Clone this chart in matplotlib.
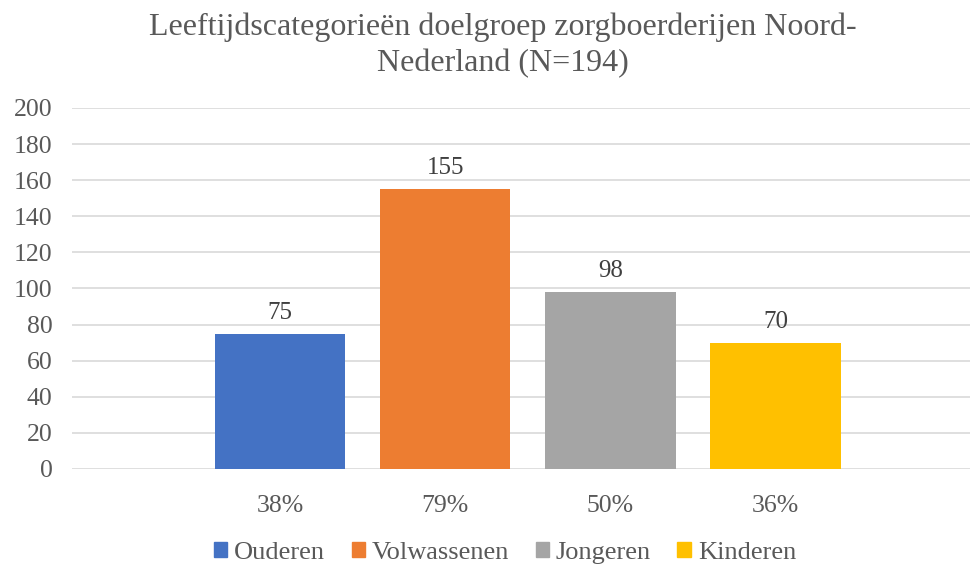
import matplotlib
matplotlib.use("Agg")
import matplotlib.pyplot as plt
from matplotlib.patches import Patch

# data
groups = ["Ouderen", "Volwassenen", "Jongeren", "Kinderen"]
counts = [75, 155, 98, 70]
pct_labels = ["38%", "79%", "50%", "36%"]
colors = ["#4472C4", "#ED7D31", "#A5A5A5", "#FFC000"]
yticks = [0, 20, 40, 60, 80, 100, 120, 140, 160, 180, 200]

plt.rcParams['font.family'] = ['Liberation Serif', 'DejaVu Serif']
txt = "#595959"

fig = plt.figure(figsize=(9.71, 5.65), dpi=100)
ax = fig.add_axes([0.0742, 0.170, 0.925, 0.639])

pos = list(range(len(groups)))
bars = ax.bar(pos, counts, width=0.79, color=colors, zorder=3)
for b, v in zip(bars, counts):
    ax.annotate(str(v), (b.get_x() + b.get_width() / 2, v), xytext=(0, 7),
                textcoords="offset points", ha="center", va="bottom",
                fontsize=18, color="#404040")

ax.set_xlim(-1.26, 4.18)
ax.set_ylim(0, 200)
ax.set_yticks(yticks)
ax.set_xticks(pos)
ax.set_xticklabels(pct_labels)
ax.tick_params(axis="x", length=0, pad=19, labelsize=18.5, labelcolor=txt)
ax.tick_params(axis="y", length=0, pad=14, labelsize=18.5, labelcolor=txt)
ax.grid(axis="y", color="#D9D9D9", linewidth=1.2, zorder=0)
for s in ax.spines.values():
    s.set_visible(False)

fig.suptitle("Leeftijdscategorieën doelgroep zorgboerderijen Noord-\nNederland (N=194)",
             x=0.518, y=0.978, fontsize=23, color=txt, linespacing=1.3)

handles = [Patch(color=c) for c in colors]
fig.legend(handles, groups, loc="center", bbox_to_anchor=(0.52, 0.022), ncol=4,
           frameon=False, fontsize=19, labelcolor=txt, handlelength=0.5,
           handleheight=0.5, handletextpad=0.27, columnspacing=1.0,
           borderpad=0.1)

fig.savefig("out.png", dpi=100)
